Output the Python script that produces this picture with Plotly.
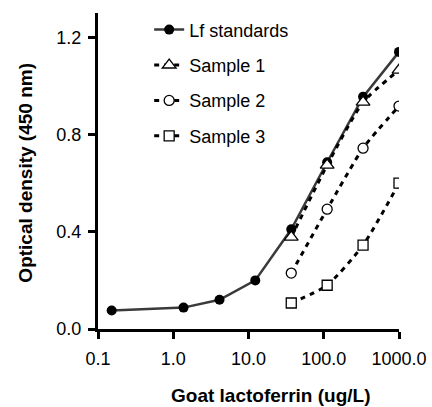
import plotly.graph_objects as go

# Data
std_conc = [0.152, 1.37, 4.12, 12.3, 37.0, 111.0, 333.0, 1000.0]
std_od = [0.076, 0.088, 0.12, 0.20, 0.41, 0.686, 0.955, 1.14]

sample_conc = [37.0, 111.0, 333.0, 1000.0]
sample1_od = [0.378, 0.674, 0.933, 1.065]
sample2_od = [0.23, 0.493, 0.744, 0.917]
sample3_od = [0.107, 0.18, 0.345, 0.60]

x_tickvals = [0.1, 1, 10, 100, 1000]
x_ticktext = ["0.1", "1.0", "10.0", "100.0", "1000.0"]
y_tickvals = [0.0, 0.4, 0.8, 1.2]
y_ticktext = ["0.0", "0.4", "0.8", "1.2"]

FONT = "Liberation Sans, Arial, sans-serif"
dash = "5px,5px"

fig = go.Figure()
fig.add_trace(go.Scatter(
    x=std_conc, y=std_od, mode="lines+markers", name="Lf standards",
    line=dict(color="#3a3a3a", width=2.5),
    marker=dict(symbol="circle", size=10, color="black"),
    legendgroup="a",
))
for name, ys, sym, size, grp in [("Sample 1", sample1_od, "triangle-up", 12, "b"),
                                 ("Sample 2", sample2_od, "circle", 10, "c"),
                                 ("Sample 3", sample3_od, "square", 10, "d")]:
    fig.add_trace(go.Scatter(
        x=sample_conc, y=ys, mode="lines+markers", name=name,
        line=dict(color="black", width=3, dash=dash, shape="spline", smoothing=0.6),
        marker=dict(symbol=sym, size=size, color="white",
                    line=dict(color="black", width=1.3)),
        legendgroup=grp,
    ))

fig.update_layout(
    width=432, height=407,
    margin=dict(l=98, r=33, t=13, b=78, autoexpand=False),
    paper_bgcolor="white", plot_bgcolor="white",
    font=dict(family=FONT, size=18, color="black"),
    showlegend=True,
    legend=dict(x=0.17, y=1.005, xanchor="left", yanchor="top",
                font=dict(size=18, color="black"), bgcolor="rgba(0,0,0,0)",
                tracegroupgap=9, itemwidth=30),
    xaxis=dict(type="log", range=[-1, 3], tickvals=x_tickvals, ticktext=x_ticktext,
               showline=True, linecolor="black", linewidth=3,
               ticks="outside", ticklen=7, tickwidth=2.5, tickcolor="black",
               showgrid=False, zeroline=False, automargin=False, ticklabelstandoff=4),
    yaxis=dict(range=[0, 1.3], tickvals=y_tickvals, ticktext=y_ticktext,
               showline=True, linecolor="black", linewidth=3,
               ticks="outside", ticklen=7, tickwidth=2.5, tickcolor="black",
               showgrid=False, zeroline=False, automargin=False, ticklabelstandoff=3),
    annotations=[
        dict(text="<b>Goat lactoferrin (ug/L)</b>", xref="paper", yref="paper",
             x=0.575, y=-0.212, xanchor="center", yanchor="middle",
             showarrow=False, font=dict(size=19)),
        dict(text="<b>Optical density (450 nm)</b>", xref="paper", yref="paper",
             x=-0.239, y=0.495, xanchor="center", yanchor="middle", textangle=-90,
             showarrow=False, font=dict(size=19)),
    ],
)

fig.write_html("out.html", config={"displayModeBar": False},
               post_script="document.body.style.margin='0';document.body.style.overflow='hidden';")
